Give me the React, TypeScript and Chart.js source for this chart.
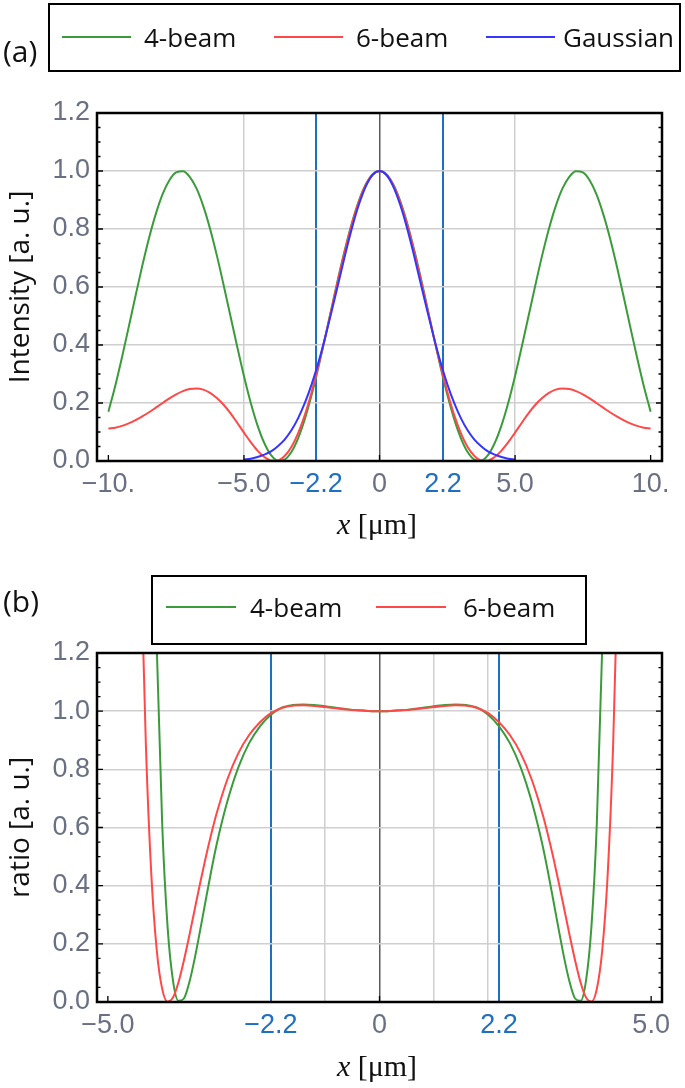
import React, { useEffect, useRef } from "react";
import { Chart, registerables } from "chart.js";

Chart.register(...registerables);

// ---------- Panel (a): intensity profiles ----------
const xA = [-10,-9.75,-9.5,-9.25,-9,-8.75,-8.5,-8.25,-8,-7.75,-7.5,-7.25,-7,-6.75,-6.5,-6.25,-6,-5.75,-5.5,-5.25,-5,-4.75,-4.5,-4.25,-4,-3.75,-3.5,-3.25,-3,-2.75,-2.5,-2.25,-2,-1.75,-1.5,-1.25,-1,-0.75,-0.5,-0.25,0,0.25,0.5,0.75,1,1.25,1.5,1.75,2,2.25,2.5,2.75,3,3.25,3.5,3.75,4,4.25,4.5,4.75,5,5.25,5.5,5.75,6,6.25,6.5,6.75,7,7.25,7.5,7.75,8,8.25,8.5,8.75,9,9.25,9.5,9.75,10];

const beam4A = [0.170,0.258,0.357,0.462,0.569,0.673,0.769,0.852,0.920,0.968,0.995,0.999,0.980,0.940,0.879,0.801,0.709,0.607,0.501,0.395,0.293,0.201,0.123,0.062,0.020,0.001,0.005,0.031,0.079,0.146,0.229,0.325,0.428,0.535,0.641,0.739,0.827,0.900,0.955,0.989,1.000,0.989,0.955,0.900,0.827,0.739,0.641,0.535,0.428,0.325,0.229,0.146,0.079,0.031,0.005,0.001,0.020,0.062,0.123,0.201,0.293,0.395,0.501,0.607,0.709,0.801,0.879,0.940,0.980,0.999,0.995,0.968,0.920,0.852,0.769,0.673,0.569,0.462,0.357,0.258,0.170];

const beam6A = [0.112,0.115,0.121,0.130,0.141,0.154,0.168,0.184,0.200,0.216,0.230,0.241,0.248,0.250,0.246,0.235,0.217,0.194,0.165,0.132,0.098,0.065,0.036,0.014,0.002,0.002,0.017,0.048,0.096,0.160,0.239,0.329,0.428,0.532,0.636,0.734,0.823,0.897,0.953,0.988,1.000,0.988,0.953,0.897,0.823,0.734,0.636,0.532,0.428,0.329,0.239,0.160,0.096,0.048,0.017,0.002,0.002,0.014,0.036,0.065,0.098,0.132,0.165,0.194,0.217,0.235,0.246,0.250,0.248,0.241,0.230,0.216,0.200,0.184,0.168,0.154,0.141,0.130,0.121,0.115,0.112];

const gaussA = [null,null,null,null,null,null,null,null,null,null,null,null,null,null,null,null,null,null,null,null,0.005,0.008,0.014,0.022,0.033,0.051,0.074,0.106,0.148,0.201,0.265,0.341,0.428,0.522,0.620,0.718,0.809,0.887,0.948,0.987,1.000,0.987,0.948,0.887,0.809,0.718,0.620,0.522,0.428,0.341,0.265,0.201,0.148,0.106,0.074,0.051,0.033,0.022,0.014,0.008,0.005,null,null,null,null,null,null,null,null,null,null,null,null,null,null,null,null,null,null,null,null];

const xTicksA = [-10, -5, -2.34, 0, 2.34, 5, 10];
const xTickLabelsA = ["\u221210.", "\u22125.0", "\u22122.2", "0", "2.2", "5.0", "10."];
const markersA = [-2.34, 2.34];
const xRangeA = [-10.42, 10.42];

// ---------- Panel (b): ratio to Gaussian ----------
const xB = [-4.4,-4.3,-4.2,-4.1,-4,-3.9,-3.8,-3.7,-3.6,-3.5,-3.4,-3.3,-3.2,-3.1,-3,-2.8,-2.6,-2.4,-2.2,-2,-1.8,-1.6,-1.4,-1.2,-1,-0.8,-0.6,-0.4,-0.2,0,0.2,0.4,0.6,0.8,1,1.2,1.4,1.6,1.8,2,2.2,2.4,2.6,2.8,3,3.1,3.2,3.3,3.4,3.5,3.6,3.7,3.8,3.9,4,4.1,4.2,4.3,4.4];

const beam4B = [5.852,3.664,2.187,1.220,0.612,0.256,0.072,0.004,0.012,0.068,0.151,0.248,0.349,0.448,0.540,0.690,0.806,0.890,0.948,0.988,1.012,1.021,1.023,1.021,1.017,1.012,1.007,1.003,1.001,1.000,1.001,1.003,1.007,1.012,1.017,1.021,1.023,1.021,1.012,0.988,0.948,0.890,0.806,0.690,0.540,0.448,0.349,0.248,0.151,0.068,0.012,0.004,0.072,0.256,0.612,1.220,2.187,3.664,5.852];

const beam6B = [1.580,0.881,0.438,0.178,0.045,0.001,0.016,0.068,0.143,0.229,0.320,0.410,0.496,0.575,0.647,0.766,0.855,0.918,0.962,0.993,1.011,1.019,1.020,1.018,1.014,1.010,1.006,1.003,1.001,1.000,1.001,1.003,1.006,1.010,1.014,1.018,1.020,1.019,1.011,0.993,0.962,0.918,0.855,0.766,0.647,0.575,0.496,0.410,0.320,0.229,0.143,0.068,0.016,0.001,0.045,0.178,0.438,0.881,1.580];

const xTicksB = [-5, -2, -1, 0, 1, 2, 2.2, 5];
const xTickLabelsB = ["\u22125.0", "\u22122.2", "", "0", "", "", "2.2", "5.0"];
const markersB = [-2, 2.2];
const xRangeB = [-5.2, 5.2];

const yTicks = [0, 0.2, 0.4, 0.6, 0.8, 1.0, 1.2];
const yTickLabels = ["0.0", "0.2", "0.4", "0.6", "0.8", "1.0", "1.2"];

const GREEN = "#3b9b3b";
const RED = "#ff4848";
const BLUE = "#3535ff";
const MARK = "#1e6fc2";
const TICK = "#6a7084";
const LIGHT = "#cfcfcf";
const ZERO = "#5a5a5a";

const framePlugin = {
  id: "frame",
  afterDatasetsDraw(chart: any, _args: any, opts: any) {
    const { ctx, chartArea } = chart;
    const { left, right, top, bottom } = chartArea;
    const xs = chart.scales.x;
    const ys = chart.scales.y;
    ctx.save();
    ctx.strokeStyle = "#000";
    ctx.lineWidth = 1.3;
    ctx.beginPath();
    for (let k = 0; k <= 24; k++) {
      const py = ys.getPixelForValue(k * 0.05);
      const len = k % 4 === 0 ? 6 : 3.5;
      ctx.moveTo(left, py);
      ctx.lineTo(left + len, py);
      ctx.moveTo(right, py);
      ctx.lineTo(right - len, py);
    }
    for (const v of opts.xMarks || []) {
      const px = xs.getPixelForValue(v);
      ctx.moveTo(px, bottom);
      ctx.lineTo(px, bottom - 6);
    }
    ctx.stroke();
    ctx.lineWidth = 2.5;
    ctx.strokeRect(left, top, right - left, bottom - top);
    ctx.restore();
  },
};

type Series = { label: string; values: (number | null)[]; color: string; order: number };

function makeConfig(p: {
  xs: number[];
  series: Series[];
  xRange: number[];
  xTicks: number[];
  xLabels: string[];
  markers: number[];
  lightGrid: number[];
  yTitle: string;
  padTop: number;
  xHeight: number;
  xMarks: number[];
}): any {
  const near = (a: number, list: number[]) => list.some((b) => Math.abs(a - b) < 1e-6);
  return {
    type: "line",
    data: {
      datasets: p.series.map((s) => ({
        label: s.label,
        data: p.xs.map((x, i) => ({ x, y: s.values[i] })),
        borderColor: s.color,
        backgroundColor: s.color,
        borderWidth: 2,
        pointRadius: 0,
        cubicInterpolationMode: "monotone",
        spanGaps: false,
        order: s.order,
      })),
    },
    options: {
      responsive: false,
      animation: false,
      events: [],
      layout: { padding: { top: p.padTop, right: 23, left: 0, bottom: 0 } },
      plugins: {
        legend: { display: false },
        tooltip: { enabled: false },
        frame: { xMarks: p.xMarks },
      },
      scales: {
        x: {
          type: "linear",
          min: p.xRange[0],
          max: p.xRange[1],
          afterBuildTicks: (scale: any) => {
            scale.ticks = p.xTicks.map((v) => ({ value: v }));
          },
          afterFit: (scale: any) => {
            scale.height = p.xHeight;
          },
          ticks: {
            autoSkip: false,
            maxRotation: 0,
            minRotation: 0,
            padding: 7,
            font: { family: "'Liberation Sans', Arial, sans-serif", size: 27 },
            color: (c: any) => (c.tick && near(c.tick.value, p.markers) ? MARK : TICK),
            callback: (_v: any, i: number) => p.xLabels[i],
          },
          grid: {
            drawTicks: false,
            color: (c: any) => {
              const v = c.tick ? c.tick.value : NaN;
              if (near(v, p.markers)) return MARK;
              if (Math.abs(v) < 1e-9) return ZERO;
              if (near(v, p.lightGrid)) return LIGHT;
              return "rgba(0,0,0,0)";
            },
            lineWidth: (c: any) => (c.tick && near(c.tick.value, p.markers) ? 2 : 1.5),
          },
          border: { display: false },
        },
        y: {
          type: "linear",
          min: 0,
          max: 1.2,
          afterBuildTicks: (scale: any) => {
            scale.ticks = yTicks.map((v) => ({ value: v }));
          },
          afterFit: (scale: any) => {
            scale.width = 97;
          },
          ticks: {
            padding: 7,
            font: { family: "'Liberation Sans', Arial, sans-serif", size: 27 },
            color: TICK,
            callback: (_v: any, i: number) => yTickLabels[i],
          },
          grid: {
            drawTicks: false,
            color: (c: any) => {
              const v = c.tick ? c.tick.value : 0;
              return v > 0.01 && v < 1.19 ? LIGHT : "rgba(0,0,0,0)";
            },
            lineWidth: 1.5,
          },
          border: { display: false },
          title: {
            display: true,
            text: p.yTitle,
            color: "#111",
            font: { family: "'Open Sans', sans-serif", size: 28 },
            padding: { top: 4, bottom: 0 },
          },
        },
      },
    },
    plugins: [framePlugin],
  };
}

function ChartCanvas({ build, top, height }: { build: () => any; top: number; height: number }) {
  const ref = useRef<HTMLCanvasElement>(null);
  useEffect(() => {
    const chart = new Chart(ref.current as HTMLCanvasElement, build());
    return () => chart.destroy();
  }, []);
  return (
    <canvas
      ref={ref}
      width={685}
      height={height}
      style={{ position: "absolute", left: 0, top, width: 685, height }}
    />
  );
}

const sans = "'Open Sans', sans-serif";

function LegendItem({ x1, x2, y, color, textX, text }: any) {
  return (
    <>
      <div style={{ position: "absolute", left: x1, top: y - 1, width: x2 - x1, height: 2, background: color }} />
      <div
        style={{
          position: "absolute",
          left: textX,
          top: y - 18,
          height: 36,
          lineHeight: "36px",
          font: `26px ${sans}`,
          color: "#111",
          whiteSpace: "nowrap",
        }}
      >
        {text}
      </div>
    </>
  );
}

function XTitle({ cy }: { cy: number }) {
  return (
    <div
      style={{
        position: "absolute",
        left: 277,
        width: 200,
        top: cy - 18,
        height: 36,
        lineHeight: "36px",
        textAlign: "center",
        font: "30px 'Liberation Serif', serif",
        color: "#111",
        whiteSpace: "nowrap",
      }}
    >
      <i>x</i>&nbsp;[μm]
    </div>
  );
}

export default function App() {
  const buildA = () =>
    makeConfig({
      xs: xA,
      series: [
        { label: "4-beam", values: beam4A, color: GREEN, order: 3 },
        { label: "6-beam", values: beam6A, color: RED, order: 2 },
        { label: "Gaussian", values: gaussA, color: BLUE, order: 1 },
      ],
      xRange: xRangeA,
      xTicks: xTicksA,
      xLabels: xTickLabelsA,
      markers: markersA,
      lightGrid: [-5, 5],
      yTitle: "Intensity [a. u.]",
      padTop: 113,
      xHeight: 545 - 461,
      xMarks: [-10, -5, 0, 5, 10],
    });
  const buildB = () =>
    makeConfig({
      xs: xB,
      series: [
        { label: "4-beam", values: beam4B, color: GREEN, order: 2 },
        { label: "6-beam", values: beam6B, color: RED, order: 1 },
      ],
      xRange: xRangeB,
      xTicks: xTicksB,
      xLabels: xTickLabelsB,
      markers: markersB,
      lightGrid: [-2, -1, 1, 2],
      yTitle: "ratio [a. u.]",
      padTop: 653 - 545,
      xHeight: 543 - (1002 - 545),
      xMarks: [-5, 0, 5],
    });

  return (
    <div style={{ position: "absolute", left: 0, top: 0, width: 685, height: 1088, background: "#fff", overflow: "hidden" }}>
      <ChartCanvas build={buildA} top={0} height={545} />
      <ChartCanvas build={buildB} top={545} height={543} />

      <div style={{ position: "absolute", left: 3, top: 30, height: 38, lineHeight: "38px", font: `30px ${sans}`, color: "#111" }}>(a)</div>
      <div style={{ position: "absolute", left: 48, top: 3, width: 633, height: 69, border: "2px solid #000", boxSizing: "border-box" }} />
      <LegendItem x1={62} x2={131} y={37} color={GREEN} textX={144} text="4-beam" />
      <LegendItem x1={274} x2={343} y={37} color={RED} textX={356} text="6-beam" />
      <LegendItem x1={486} x2={555} y={37} color={BLUE} textX={563} text="Gaussian" />
      <XTitle cy={525} />

      <div style={{ position: "absolute", left: 3, top: 580, height: 38, lineHeight: "38px", font: `30px ${sans}`, color: "#111" }}>(b)</div>
      <div style={{ position: "absolute", left: 151, top: 575, width: 436, height: 70, border: "2px solid #000", boxSizing: "border-box" }} />
      <LegendItem x1={166} x2={236} y={607} color={GREEN} textX={250} text="4-beam" />
      <LegendItem x1={376} x2={446} y={607} color={RED} textX={463} text="6-beam" />
      <XTitle cy={1067} />
    </div>
  );
}
